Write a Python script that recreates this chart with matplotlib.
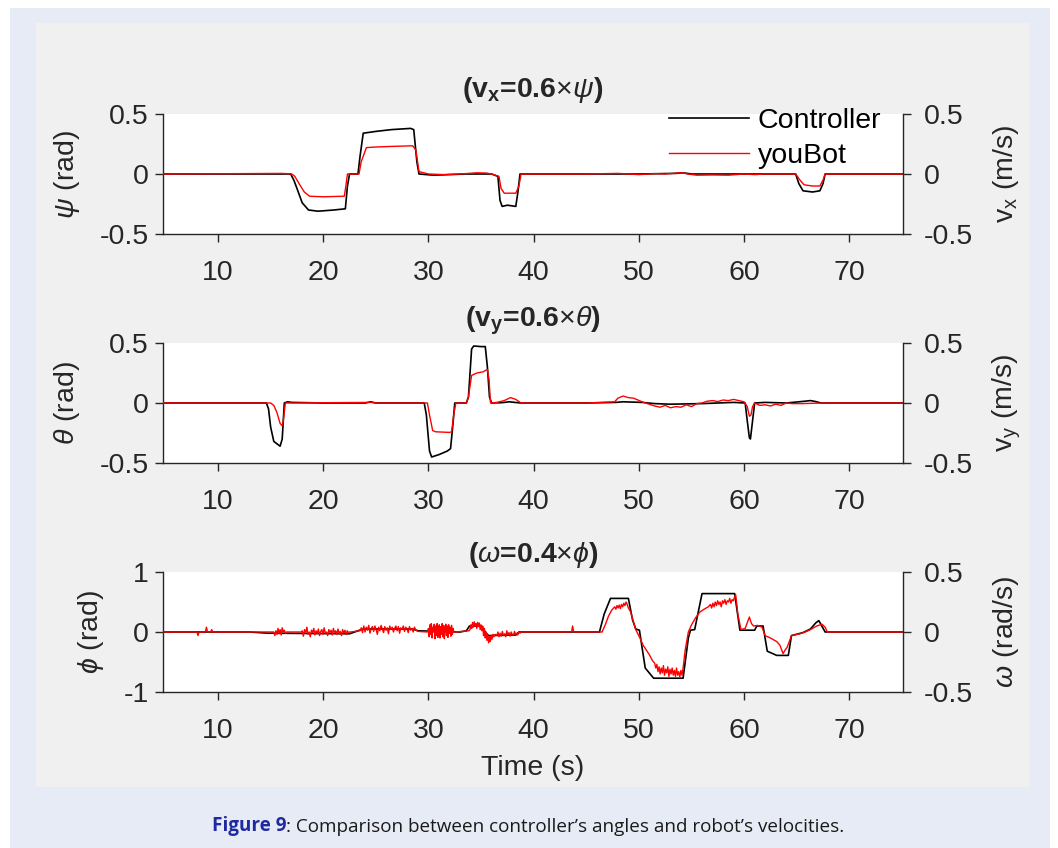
import numpy as np
import matplotlib
matplotlib.use('Agg')
import matplotlib.pyplot as plt
from matplotlib.patches import Rectangle

plt.rcParams['font.family'] = ['Liberation Sans', 'DejaVu Sans']
plt.rcParams['mathtext.fontset'] = 'custom'
plt.rcParams['mathtext.rm'] = 'Liberation Sans'
plt.rcParams['mathtext.it'] = 'Liberation Sans:italic'
plt.rcParams['mathtext.bf'] = 'Liberation Sans:bold'
plt.rcParams['axes.unicode_minus'] = False

# ---- data ----
# top panel: psi (controller) / v_x (youBot)
t_psi = [4.8, 16.9, 17.2, 17.5, 18.0, 18.6, 19.5, 21.0, 22.1, 22.3, 22.5, 23.3, 23.5, 23.8, 25.0,
         26.5, 28.3, 28.6, 28.9, 29.1, 30.5, 32.0, 33.5, 34.5, 36.0, 36.6, 36.8, 37.0, 37.5, 38.3,
         38.5, 38.7, 45.0, 50.0, 53.5, 54.2, 55.0, 58.0, 62.0, 64.9, 65.2, 65.6, 66.5, 67.2, 67.5,
         67.7, 75.1]
psi = [0, 0, -0.05, -0.12, -0.24, -0.30, -0.31, -0.30, -0.29, -0.1, 0, 0, 0.15, 0.34, 0.355,
       0.37, 0.38, 0.37, 0.1, 0, -0.01, -0.005, 0, 0, 0, -0.02, -0.22, -0.27, -0.26, -0.27,
       -0.15, 0, 0, 0, 0.005, 0.01, 0, 0, 0, 0, -0.08, -0.14, -0.15, -0.14, -0.08, 0, 0]
t_vx = [4.8, 12.0, 16.0, 16.5, 17.0, 17.3, 17.7, 18.2, 18.7, 20.0, 22.0, 22.15, 22.3, 23.4, 23.6,
        24.1, 25.0, 26.5, 28.5, 28.8, 29.1, 30.0, 31.5, 33.0, 34.6, 35.5, 36.0, 36.7, 36.9, 37.2,
        38.3, 38.6, 38.8, 45.0, 48.0, 50.0, 51.5, 52.5, 53.6, 54.2, 54.6, 55.5, 57.0, 58.5, 60.0,
        61.0, 62.0, 64.9, 65.3, 65.7, 66.5, 67.2, 67.5, 67.7, 75.1]
vx = [0, 0.003, 0.005, 0.003, 0, -0.02, -0.08, -0.15, -0.185, -0.19, -0.185, -0.1, 0, 0, 0.1,
      0.22, 0.225, 0.23, 0.235, 0.2, 0.02, 0, -0.005, 0, 0.01, 0.008, 0, -0.02, -0.12, -0.16,
      -0.16, -0.1, 0, 0, 0.005, -0.005, 0.003, 0.0, 0.008, 0.01, 0, -0.01, -0.008, -0.01, 0,
      -0.005, 0, 0, -0.05, -0.09, -0.1, -0.1, -0.05, 0, 0]

# middle panel: theta (controller) / v_y (youBot)
t_theta = [4.8, 14.6, 14.8, 15.0, 15.3, 15.6, 15.9, 16.1, 16.3, 16.6, 17.0, 20.0, 24.0, 24.5, 25.0,
           29.6, 29.8, 30.1, 30.3, 31.0, 31.8, 32.1, 32.3, 32.5, 33.6, 33.8, 34.1, 34.3, 35.0, 35.4,
           35.6, 35.8, 36.0, 37.0, 37.7, 38.2, 38.8, 45.0, 47.8, 48.5, 50.3, 51.5, 53.0, 56.0, 57.5,
           59.0, 60.1, 60.3, 60.5, 60.6, 60.8, 61.0, 62.0, 64.0, 65.8, 66.3, 66.8, 67.3, 75.1]
theta = [0, 0, -0.05, -0.2, -0.32, -0.34, -0.36, -0.3, 0, 0.01, 0.005, 0, 0, 0.01, 0,
         0, -0.1, -0.4, -0.45, -0.43, -0.40, -0.38, -0.2, 0, 0, 0.05, 0.45, 0.475, 0.47, 0.47,
         0.3, 0.05, 0, 0.003, 0.01, 0.005, 0, 0, 0.005, 0.01, 0.005, -0.005, -0.01, -0.005, 0,
         0.005, 0, -0.15, -0.29, -0.30, -0.15, 0, 0.005, 0, 0.015, 0.02, 0.012, 0, 0]
t_vy = [4.8, 15.0, 15.3, 15.6, 15.9, 16.1, 16.2, 16.4, 17.0, 21.0, 24.5, 25.0, 29.9, 30.1, 30.4,
        30.7, 32.0, 32.2, 32.4, 32.6, 33.6, 33.8, 34.1, 34.6, 35.2, 35.6, 35.75, 35.9, 36.5, 37.2,
        37.8, 38.3, 38.8, 45.0, 47.7, 48.0, 48.5, 49.0, 49.5, 50.3, 50.8, 51.5, 52.0, 52.5, 53.0,
        53.5, 54.0, 54.5, 55.0, 55.5, 56.0, 56.5, 57.0, 57.5, 58.0, 58.5, 59.0, 59.5, 60.0, 60.3,
        60.5, 60.65, 60.8, 61.0, 61.5, 62.0, 62.5, 63.0, 63.5, 64.0, 64.6, 65.5, 67.5, 75.1]
vy = [0, 0, -0.02, -0.08, -0.17, -0.19, -0.15, 0, 0, 0.003, 0.005, 0, 0, -0.1, -0.23,
      -0.24, -0.245, -0.24, -0.1, 0, 0, 0.05, 0.23, 0.25, 0.26, 0.28, 0.2, 0, 0.005, 0.02,
      0.045, 0.03, 0, 0, 0.01, 0.04, 0.058, 0.045, 0.04, 0.01, -0.005, -0.025, -0.035, -0.02, -0.04,
      -0.03, -0.035, -0.015, -0.03, -0.005, 0.0, 0.015, 0.02, 0.012, 0.025, 0.02, 0.03, 0.02, 0.01, -0.03,
      -0.11, -0.10, -0.03, 0, -0.02, -0.015, -0.025, -0.01, -0.02, 0, -0.005, -0.005, 0, 0]

# bottom panel: phi (controller, rad) / omega (youBot, rad/s)
t_phi = [4.8, 13.0, 14.8, 15.2, 22.5, 23.3, 23.8, 28.5, 29.0, 33.0, 33.6, 33.9, 35.0, 35.4, 35.7,
         38.3, 38.6, 46.25, 46.7, 47.3, 49.0, 49.4, 49.7, 50.05, 50.6, 51.4, 54.2, 54.7, 54.9, 55.3,
         56.0, 59.1, 59.6, 61.0, 61.2, 61.8, 62.2, 63.1, 64.2, 64.5, 65.6, 66.3, 66.8, 67.1, 67.7, 75.1]
phi = [0, 0, -0.02, -0.02, -0.03, 0.02, 0.05, 0.05, 0.02, 0.0, 0.02, 0.1, 0.1, 0.0, -0.06,
       -0.05, 0, 0, 0.3, 0.56, 0.56, 0.2, 0.05, 0.03, -0.6, -0.77, -0.77, -0.1, 0.03, 0.04,
       0.64, 0.64, 0.03, 0.03, 0.1, 0.1, -0.32, -0.39, -0.39, -0.06, -0.01, 0.05, 0.15, 0.19, 0, 0]

# youBot omega: smooth stretches and noisy stretches (start, end, values)
om_smooth = [
    ([4.8, 8.0, 8.1, 8.2, 8.8, 8.9, 9.0, 9.3, 9.4, 9.5, 15.2], [0, 0, -0.03, 0, 0, 0.04, 0, 0, 0.02, 0, 0]),
    ([16.6, 17.9], [0, 0]),
    ([22.6, 23.4], [0.0, 0.01]),
    ([29.0, 29.9], [0.005, 0.0]),
    ([32.5, 33.85], [0.0, 0.01]),
    ([36.35], [-0.02]),
    ([38.8, 43.6, 43.7, 43.8, 46.5, 46.8, 47.1, 47.4, 47.6], [0, 0, 0.05, 0, 0, 0.06, 0.13, 0.18, 0.2]),
    ([49.2, 49.5, 49.7, 50.1, 50.4, 50.7, 51.0, 51.3], [0.17, 0.08, 0.02, -0.05, -0.11, -0.15, -0.19, -0.24]),
    ([54.4, 54.7, 55.0, 55.4, 55.8, 56.2, 56.6], [-0.15, 0.0, 0.06, 0.12, 0.167, 0.19, 0.21]),
    ([59.4, 59.7, 60.1, 60.5, 60.7, 60.9, 61.3, 61.7, 62.0, 62.5, 63.1, 63.4, 63.7, 63.9, 64.1,
      64.5, 65.3, 65.8, 66.3, 66.9, 67.4, 67.7, 67.9, 75.1],
     [0.15, 0.02, 0.03, 0.125, 0.07, 0.05, 0.055, 0.04, -0.03, -0.05, -0.08, -0.11, -0.18, -0.15, -0.125,
      -0.03, -0.015, 0.0, 0.02, 0.05, 0.065, 0.04, 0.0, 0.0]),
]
om_noisy = [
    (15.3, 16.5, [0.0, -0.03, 0.01, -0.02, 0.03, -0.015, 0.02, -0.025, 0.035, 0.0, 0.015, -0.01, 0.0]),
    (18.0, 22.5, [0.01, -0.035, 0.02, -0.01, 0.04, -0.02, 0.0, -0.04, 0.015, -0.005, 0.03, -0.025, 0.01,
                  -0.015, 0.025, -0.03, 0.005, 0.02, -0.02, 0.035, -0.01, 0.0, -0.03, 0.02, -0.005, 0.015,
                  -0.025, 0.03, -0.01, 0.01, -0.02, 0.025, -0.015, 0.005, -0.03, 0.02, -0.01, 0.015, -0.02,
                  0.01, -0.005, 0.0]),
    (23.5, 28.9, [0.01, 0.035, -0.005, 0.05, 0.0, 0.04, 0.015, 0.055, -0.01, 0.03, 0.045, 0.005, 0.05,
                  0.02, -0.02, 0.04, 0.01, 0.055, 0.025, -0.005, 0.045, 0.015, 0.035, -0.015, 0.05, 0.02,
                  0.04, 0.0, 0.03, 0.05, 0.01, 0.045, -0.01, 0.035, 0.02, 0.05, 0.005, 0.04, 0.025, -0.005,
                  0.045, 0.015, 0.03, 0.0, 0.04, 0.02, 0.01]),
    (30.0, 32.4, [0.03, -0.04, 0.06, -0.02, 0.07, -0.05, 0.04, 0.0, 0.065, -0.055, 0.05, -0.03, 0.07,
                  -0.045, 0.02, 0.06, -0.05, 0.045, -0.02, 0.07, -0.04, 0.055, -0.055, 0.03, 0.065, -0.03,
                  0.05, -0.045, 0.06, -0.01, 0.04, -0.035, 0.055, -0.02, 0.03, 0.0]),
    (33.95, 36.2, [0.02, 0.06, 0.03, 0.08, 0.04, 0.085, 0.05, 0.07, 0.03, 0.08, 0.045, 0.075, 0.02, 0.06,
                   0.01, 0.05, -0.03, 0.03, -0.05, 0.0, -0.07, -0.02, -0.09, -0.04, -0.08, -0.03, -0.06,
                   -0.02, -0.04]),
    (36.5, 38.7, [-0.03, 0.0, -0.04, -0.01, -0.035, 0.005, -0.03, -0.015, -0.04, 0.01, -0.025, -0.005,
                  -0.035, 0.0, -0.02, -0.03, 0.005, -0.02, -0.01, -0.025, 0.0, -0.01]),
    (47.7, 49.0, [0.21, 0.19, 0.22, 0.2, 0.225, 0.195, 0.23, 0.21, 0.24, 0.22, 0.25, 0.23, 0.2]),
    (51.5, 54.2, [-0.26, -0.3, -0.27, -0.33, -0.29, -0.35, -0.3, -0.34, -0.28, -0.36, -0.31, -0.34, -0.29,
                  -0.37, -0.31, -0.35, -0.3, -0.36, -0.32, -0.37, -0.3, -0.36, -0.33, -0.375, -0.32, -0.36,
                  -0.3]),
    (56.8, 59.2, [0.23, 0.2, 0.24, 0.21, 0.25, 0.22, 0.26, 0.23, 0.25, 0.21, 0.26, 0.24, 0.27, 0.23, 0.26,
                  0.25, 0.28, 0.24, 0.27, 0.26, 0.29, 0.31]),
]

t_om = np.concatenate([s[0] for s in om_smooth] + [np.linspace(a, b, len(v)) for a, b, v in om_noisy])
om = np.concatenate([s[1] for s in om_smooth] + [v for a, b, v in om_noisy])
order = np.argsort(t_om, kind='stable')
t_om, om = t_om[order], om[order]

xticks = [10, 20, 30, 40, 50, 60, 70]

# ---- figure ----
W, H = 1058, 848
fig = plt.figure(figsize=(W / 100, H / 100), dpi=100, facecolor='white')
fig.add_artist(Rectangle((10 / W, 0), 1040 / W, 1 - 8 / H, transform=fig.transFigure,
                         facecolor='#e7ebf5', edgecolor='none', zorder=-3))
fig.add_artist(Rectangle((36 / W, 1 - 787 / H), 993 / W, 764 / H, transform=fig.transFigure,
                         facecolor='#f0f0f0', edgecolor='none', zorder=-2))

fs = 20.5
axc = '#262626'


def fmt(v):
    return '%g' % v


def panel(top_px, tc, vc, ty, vy_, ylim_l, yt_l, lab_l, lab_r, title, tpad):
    ax = fig.add_axes([163 / W, 1 - (top_px + 120) / H, 740 / W, 120 / H])
    ax.set_facecolor('white')
    l1, = ax.plot(tc, vc, color='black', lw=1.2)
    ax.set_xlim(4.77, 75.1)
    ax.set_ylim(*ylim_l)
    ax.set_yticks(yt_l)
    ax.set_yticklabels([fmt(v) for v in yt_l])
    ax.set_xticks(xticks)
    ax.set_xticklabels([str(v) for v in xticks])
    for s in ['top', 'right']:
        ax.spines[s].set_visible(False)
    for s in ['left', 'bottom']:
        ax.spines[s].set_color(axc)
        ax.spines[s].set_linewidth(1.0)
    ax.tick_params(axis='both', direction='out', length=6, width=1.0, color=axc,
                   labelcolor=axc, labelsize=fs)
    ax.tick_params(axis='x', pad=12.5)
    ax.tick_params(axis='y', pad=4)
    ax.set_ylabel(lab_l, fontsize=fs, color=axc, labelpad=13)
    ax.set_title(title, fontsize=fs, fontweight='bold', color=axc, pad=tpad)

    ax2 = ax.twinx()
    l2, = ax2.plot(ty, vy_, color='#ff0000', lw=1.0)
    ax2.set_ylim(-0.5, 0.5)
    ax2.set_yticks([-0.5, 0, 0.5])
    ax2.set_yticklabels(['-0.5', '0', '0.5'])
    for s in ['top', 'left', 'bottom']:
        ax2.spines[s].set_visible(False)
    ax2.spines['right'].set_color(axc)
    ax2.spines['right'].set_linewidth(1.0)
    ax2.tick_params(axis='y', direction='out', length=6, width=1.0, color=axc,
                    labelcolor=axc, labelsize=fs, pad=9)
    ax2.set_ylabel(lab_r, fontsize=fs, color=axc, labelpad=13)
    return ax, ax2, l1, l2


ax1, ax1r, lc, ly = panel(114, t_psi, psi, t_vx, vx, (-0.5, 0.5), [-0.5, 0, 0.5],
                          r'$\psi$ (rad)', r'v$_\mathregular{x}$ (m/s)',
                          r'(v$_\mathbf{x}$=0.6$\times\psi$)', 12)
ax2, ax2r, _, _ = panel(343, t_theta, theta, t_vy, vy, (-0.5, 0.5), [-0.5, 0, 0.5],
                        r'$\theta$ (rad)', r'v$_\mathregular{y}$ (m/s)',
                        r'(v$_\mathbf{y}$=0.6$\times\theta$)', 12)
ax3, ax3r, _, _ = panel(572, t_phi, phi, t_om, om, (-1, 1), [-1, 0, 1],
                        r'$\phi$ (rad)', r'$\omega$ (rad/s)',
                        r'($\omega$=0.4$\times\phi$)', 7)
ax3.set_xlabel('Time (s)', fontsize=fs, color=axc, labelpad=8)

ax1r.legend([lc, ly], ['Controller', 'youBot'], loc='upper right', frameon=False,
            fontsize=fs, handlelength=2.8, handletextpad=0.3, labelspacing=0.3,
            borderpad=0, borderaxespad=0,
            bbox_to_anchor=(881 / W, 1 - 108 / H), bbox_transform=fig.transFigure)

# caption
cap1 = fig.text(212 / W, 1 - 826 / H, 'Figure 9', color='#1f2aa0', fontweight='bold',
                fontsize=13.6, family=['Open Sans', 'DejaVu Sans'], va='center', ha='left')
ax3.annotate(': Comparison between controller\u2019s angles and robot\u2019s velocities.',
             xy=(1, 0), xycoords=cap1, va='bottom', ha='left', fontsize=13.6,
             family=['Open Sans', 'DejaVu Sans'], color='#1a1a1a', annotation_clip=False)

fig.savefig('out.png', dpi=100, facecolor=fig.get_facecolor())
